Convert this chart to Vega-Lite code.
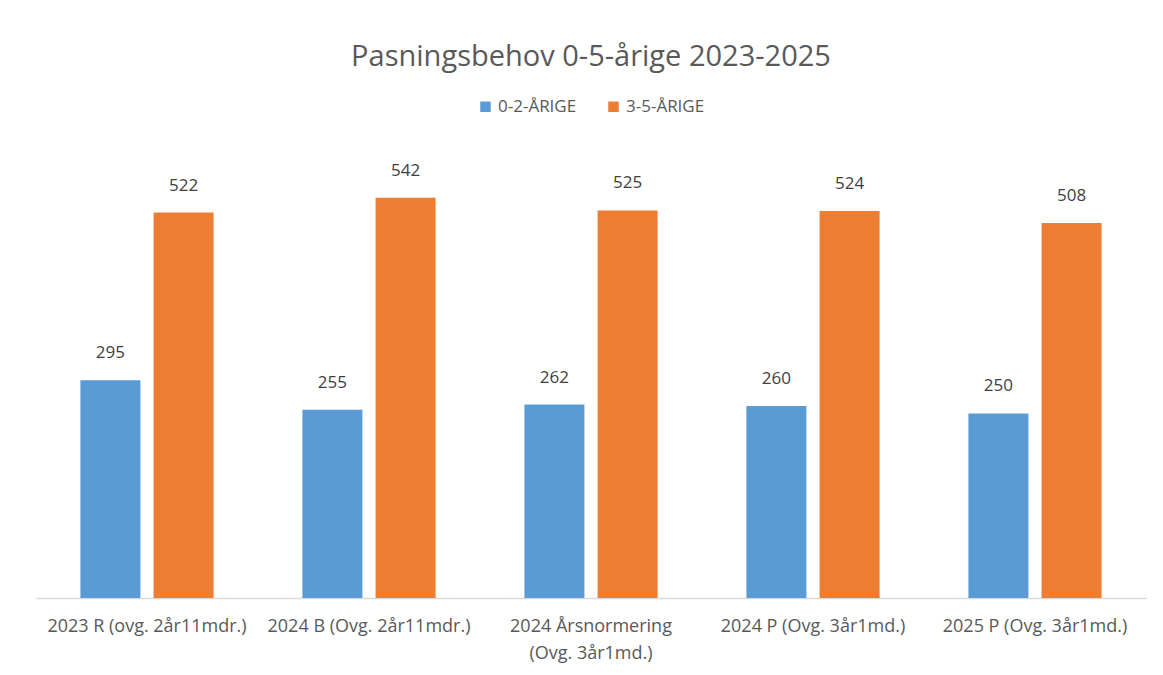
{
  "$schema": "https://vega.github.io/schema/vega-lite/v6.json",
  "autosize": "none",
  "width": 1110,
  "height": 443,
  "padding": {"left": 36, "top": 155, "right": 17, "bottom": 77},
  "background": "white",
  "title": {
    "text": "Pasningsbehov 0-5-årige 2023-2025",
    "font": "Open Sans",
    "fontSize": 29,
    "fontWeight": "normal",
    "color": "#595959",
    "anchor": "middle",
    "offset": 26
  },
  "data": {
    "values": [
      {"kategori": "2023 R (ovg. 2år11mdr.)", "gruppe": "0-2-ÅRIGE", "antall": 295},
      {"kategori": "2023 R (ovg. 2år11mdr.)", "gruppe": "3-5-ÅRIGE", "antall": 522},
      {"kategori": "2024 B (Ovg. 2år11mdr.)", "gruppe": "0-2-ÅRIGE", "antall": 255},
      {"kategori": "2024 B (Ovg. 2år11mdr.)", "gruppe": "3-5-ÅRIGE", "antall": 542},
      {"kategori": "2024 Årsnormering (Ovg. 3år1md.)", "gruppe": "0-2-ÅRIGE", "antall": 262},
      {"kategori": "2024 Årsnormering (Ovg. 3år1md.)", "gruppe": "3-5-ÅRIGE", "antall": 525},
      {"kategori": "2024 P (Ovg. 3år1md.)", "gruppe": "0-2-ÅRIGE", "antall": 260},
      {"kategori": "2024 P (Ovg. 3år1md.)", "gruppe": "3-5-ÅRIGE", "antall": 524},
      {"kategori": "2025 P (Ovg. 3år1md.)", "gruppe": "0-2-ÅRIGE", "antall": 250},
      {"kategori": "2025 P (Ovg. 3år1md.)", "gruppe": "3-5-ÅRIGE", "antall": 508}
    ]
  },
  "encoding": {
    "x": {
      "field": "kategori",
      "type": "nominal",
      "sort": null,
      "scale": {"paddingInner": 0.4, "paddingOuter": 0.2},
      "axis": {
        "title": null,
        "labelAngle": 0,
        "labelFont": "Open Sans",
        "labelFontSize": 18,
        "labelColor": "#595959",
        "labelPadding": 19,
        "labelLimit": 300,
        "labelLineHeight": 27,
        "ticks": false,
        "domainColor": "#d9d9d9",
        "domainWidth": 1.5,
        "labelExpr": "indexof(datum.label, 'Årsnormering') >= 0 ? ['2024 Årsnormering', '(Ovg. 3år1md.)'] : datum.label"
      }
    },
    "xOffset": {
      "field": "gruppe",
      "type": "nominal",
      "scale": {"paddingInner": 0.18, "paddingOuter": 0}
    },
    "y": {
      "field": "antall",
      "type": "quantitative",
      "scale": {"domain": [0, 600], "nice": false},
      "axis": null
    }
  },
  "layer": [
    {
      "mark": {"type": "bar"},
      "encoding": {
        "color": {
          "field": "gruppe",
          "type": "nominal",
          "scale": {"domain": ["0-2-ÅRIGE", "3-5-ÅRIGE"], "range": ["#5B9BD5", "#ED7D31"]},
          "legend": {
            "title": null,
            "orient": "top",
            "direction": "horizontal",
            "symbolType": "square",
            "symbolSize": 110,
            "symbolStrokeWidth": 0,
            "labelFont": "Open Sans",
            "labelFontSize": 17,
            "labelColor": "#595959",
            "labelOffset": 4,
            "columnPadding": 28,
            "offset": 40
          }
        }
      }
    },
    {
      "mark": {"type": "text", "baseline": "bottom", "dy": -18, "font": "Open Sans", "fontSize": 17, "color": "#404040"},
      "encoding": {
        "text": {"field": "antall", "type": "quantitative"}
      }
    }
  ],
  "config": {
    "view": {"stroke": null},
    "legend": {"layout": {"top": {"anchor": "middle"}}}
  }
}
